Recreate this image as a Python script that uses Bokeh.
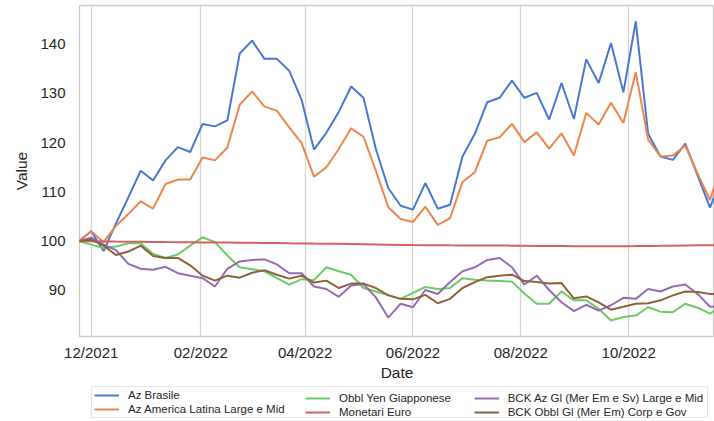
import pandas as pd
from bokeh.plotting import figure
from bokeh.layouts import column
from bokeh.models import (Range1d, DatetimeTickFormatter, MonthsTicker, FixedTicker,
                          Legend, LegendItem)
from bokeh.embed import file_html
from bokeh.resources import INLINE

# ---- data (weekly) ----
dates = pd.date_range("2021-11-24", periods=53, freq="7D")

series_names = [
    "Az Brasile",
    "Az America Latina Large e Mid",
    "Obbl Yen Giapponese",
    "Monetari Euro",
    "BCK Az Gl (Mer Em e Sv) Large e Mid",
    "BCK Obbl Gl (Mer Em) Corp e Gov",
]

az_brasile = [100.0, 102.0, 98.0, 103.6, 108.9, 114.3, 112.3, 116.4, 119.1, 118.1,
              123.8, 123.3, 124.5, 138.1, 140.7, 137.0, 137.0, 134.6, 128.7, 118.6,
              122.0, 126.2, 131.4, 129.1, 118.7, 110.8, 107.2, 106.4, 111.8, 106.6,
              107.4, 117.2, 121.8, 128.2, 129.1, 132.6, 129.1, 130.1, 124.7, 132.1,
              124.8, 136.9, 132.1, 140.2, 130.2, 144.6, 121.8, 117.2, 116.5, 119.8,
              113.3, 106.8, 113.5]

az_america_latina = [100.0, 102.0, 99.8, 103.1, 105.5, 108.1, 106.6, 111.6, 112.5, 112.5,
                     117.0, 116.4, 119.0, 127.7, 130.4, 127.3, 126.5, 123.1, 119.9, 113.1,
                     115.0, 118.7, 122.9, 121.2, 114.3, 106.9, 104.5, 103.9, 107.0, 103.3,
                     104.7, 112.0, 114.0, 120.4, 121.1, 123.8, 120.1, 122.1, 118.8, 121.9,
                     117.4, 126.0, 123.7, 128.1, 124.0, 134.3, 120.6, 117.2, 117.4, 119.4,
                     113.7, 108.3, 116.5]

obbl_yen = [100.0, 99.3, 98.6, 98.9, 99.6, 99.6, 97.4, 96.6, 97.3, 99.1,
            100.8, 99.8, 97.1, 94.7, 94.3, 93.9, 92.5, 91.2, 92.3, 92.1,
            94.7, 93.9, 93.2, 90.5, 89.8, 89.1, 88.3, 89.5, 90.7, 90.3,
            90.5, 92.5, 92.2, 92.0, 91.9, 91.8, 89.4, 87.3, 87.3, 89.8,
            88.0, 88.0, 86.3, 83.9, 84.6, 84.9, 86.6, 85.7, 85.6, 87.3,
            86.5, 85.3, 86.8]

monetari_euro = [100.0, 99.98, 99.95, 99.92, 99.9, 99.88, 99.85, 99.82, 99.8, 99.78,
                 99.76, 99.74, 99.72, 99.7, 99.68, 99.65, 99.62, 99.58, 99.55, 99.52,
                 99.5, 99.47, 99.44, 99.4, 99.35, 99.3, 99.25, 99.22, 99.2, 99.18,
                 99.16, 99.15, 99.14, 99.13, 99.12, 99.1, 99.08, 99.05, 99.02, 99.0,
                 98.98, 98.96, 98.95, 98.96, 98.98, 99.0, 99.03, 99.06, 99.1, 99.13,
                 99.16, 99.18, 99.2]

bck_az_gl = [100.0, 100.7, 99.3, 98.2, 95.4, 94.4, 94.2, 94.8, 93.5, 93.0,
             92.5, 90.8, 94.4, 95.9, 96.2, 96.3, 95.3, 93.5, 93.5, 90.8,
             90.3, 88.7, 91.0, 91.3, 88.6, 84.5, 87.3, 86.6, 90.1, 89.3,
             91.7, 93.9, 94.7, 96.2, 96.6, 94.7, 91.2, 93.0, 90.1, 87.6,
             85.8, 87.1, 85.9, 87.0, 88.5, 88.3, 90.3, 89.8, 90.8, 91.2,
             89.3, 86.7, 86.7]

bck_obbl_gl = [100.0, 100.3, 99.1, 97.2, 97.9, 99.1, 97.0, 96.6, 96.6, 95.1,
               93.0, 92.0, 93.0, 92.6, 93.6, 94.1, 93.2, 92.4, 93.0, 91.6,
               92.0, 90.5, 91.4, 91.4, 90.5, 89.0, 88.3, 88.2, 89.1, 87.4,
               88.3, 90.5, 91.7, 92.7, 93.0, 93.2, 91.9, 91.7, 91.4, 91.5,
               88.4, 88.8, 87.6, 86.1, 86.7, 87.3, 87.4, 88.0, 89.0, 89.8,
               89.7, 89.3, 89.3]

y_ticks = [90, 100, 110, 120, 130, 140]

colors = ["#4878d0", "#ee854a", "#6acc64", "#d65f5f", "#956cb4", "#8c613c"]
values = [az_brasile, az_america_latina, obbl_yen, monetari_euro, bck_az_gl, bck_obbl_gl]

FONT = "Liberation Sans"
TXT = "#262626"
W = 714

# ---- main chart ----
x_start = pd.Timestamp("2021-11-24 09:07")
x_end = x_start + pd.Timedelta(days=359.16)

p = figure(width=W, height=384, output_backend="svg", toolbar_location=None,
           x_axis_type="datetime",
           x_range=Range1d(x_start, x_end), y_range=Range1d(80.66, 147.83),
           min_border_left=79, min_border_right=0, min_border_top=5,
           min_border_bottom=48)

p.background_fill_color = "white"
p.border_fill_color = "white"
p.outline_line_color = "#cccccc"
p.outline_line_width = 1.3

for vals, col in zip(values, colors):
    p.line(dates, vals, line_color=col, line_width=2)

for ax in (p.xaxis[0], p.yaxis[0]):
    ax.axis_line_color = None
    ax.major_tick_line_color = None
    ax.minor_tick_line_color = None
    ax.major_tick_out = 0
    ax.major_tick_in = 0
    ax.minor_tick_out = 0
    ax.major_label_text_font = FONT
    ax.major_label_text_font_size = "15px"
    ax.major_label_text_color = TXT
    ax.axis_label_text_font = FONT
    ax.axis_label_text_font_size = "15.5px"
    ax.axis_label_text_font_style = "normal"
    ax.axis_label_text_color = TXT

p.xaxis.ticker = MonthsTicker(months=[1, 3, 5, 7, 9, 11])
p.xaxis.formatter = DatetimeTickFormatter(months="%m/%Y", days="%m/%Y", years="%m/%Y")
p.xaxis.axis_label = "Date"
p.xaxis.major_label_standoff = 7
p.xaxis.axis_label_standoff = 0

p.yaxis.ticker = FixedTicker(ticks=y_ticks)
p.yaxis.axis_label = "Value"
p.yaxis.major_label_standoff = 14
p.yaxis.axis_label_standoff = 7

p.xgrid.grid_line_color = "#d4d4d4"
p.xgrid.grid_line_width = 1.3
p.ygrid.grid_line_color = None

# ---- legend strip (same series, drawn outside its visible range) ----
lg = figure(width=W, height=37, output_backend="svg", toolbar_location=None,
            x_axis_type="datetime", x_axis_location=None, y_axis_location=None,
            x_range=Range1d(x_start, x_end), y_range=Range1d(0, 1),
            min_border_left=79, min_border_right=0, min_border_top=0,
            min_border_bottom=0)
lg.outline_line_color = None
lg.xgrid.grid_line_color = None
lg.ygrid.grid_line_color = None
lg.background_fill_color = "white"
lg.border_fill_color = "white"

lg_renderers = [lg.line(dates, vals, line_color=col, line_width=2)
                for vals, col in zip(values, colors)]
items = [LegendItem(label=n, renderers=[r]) for n, r in zip(series_names, lg_renderers)]

common = dict(orientation="vertical", padding=2, margin=0, spacing=2,
              glyph_width=25, glyph_height=12, label_height=12, label_standoff=9,
              label_text_font=FONT, label_text_font_size="11.5px",
              label_text_color=TXT)

leg1 = Legend(items=items[0:2], location=(12, 3), label_width=577,
              border_line_color="#cccccc", border_line_width=1,
              background_fill_color="white", background_fill_alpha=1.0, **common)
leg2 = Legend(items=items[2:4], location=(226, 3), border_line_color=None,
              background_fill_alpha=0.0, **common)
leg3 = Legend(items=items[4:6], location=(394.7, 3), border_line_color=None,
              background_fill_alpha=0.0, **common)
lg.add_layout(leg1)
lg.add_layout(leg2)
lg.add_layout(leg3)

layout = column(p, lg, spacing=0)
open("out.html", "w").write(file_html(layout, INLINE))
